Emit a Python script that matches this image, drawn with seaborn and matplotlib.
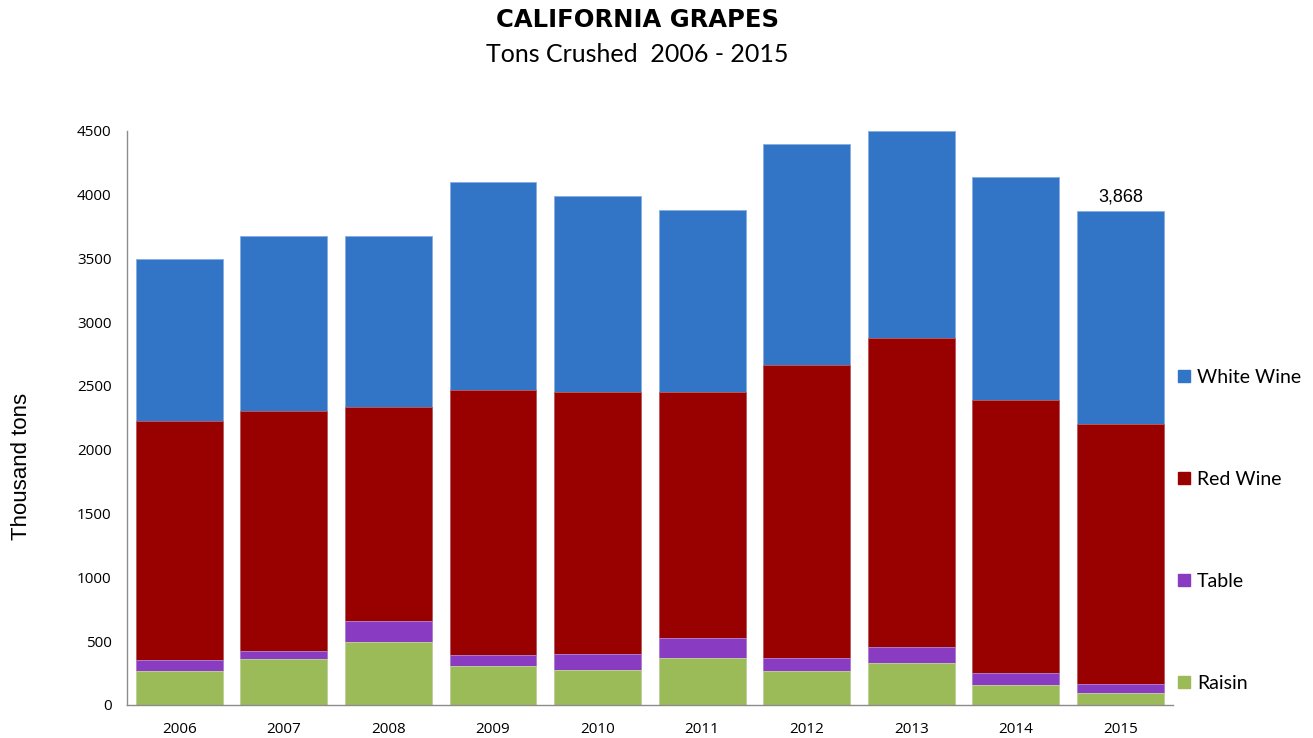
import numpy as np
import pandas as pd
import matplotlib
matplotlib.use("Agg")
import matplotlib.pyplot as plt
import seaborn as sns
from matplotlib.lines import Line2D

years = ["2006", "2007", "2008", "2009", "2010", "2011", "2012", "2013", "2014", "2015"]
raisin = [267, 361, 494, 306, 274, 371, 269, 329, 157, 92]
table = [84, 65, 164, 89, 125, 157, 97, 125, 94, 73]
red_wine = [1875, 1876, 1676, 2074, 2053, 1921, 2298, 2418, 2139, 2040]
white_wine = [1272, 1374, 1342, 1630, 1538, 1431, 1728, 1628, 1751, 1663]
series_names = ["Raisin", "Table", "Red Wine", "White Wine"]
colors = {"Raisin": "#9BBB59", "Table": "#893BC2", "Red Wine": "#990000", "White Wine": "#3275C6"}
edges = {"Raisin": "#C4D99B", "Table": "#B48AD8", "Red Wine": "#C06060", "White Wine": "#86AEE0"}

sns.set_style("white")
plt.rcParams["text.color"] = "black"
plt.rcParams["xtick.color"] = "black"
plt.rcParams["ytick.color"] = "black"

df = pd.DataFrame({"year": years, "Raisin": raisin, "Table": table,
                   "Red Wine": red_wine, "White Wine": white_wine})
cum = df[series_names].cumsum(axis=1)

fig = plt.figure(figsize=(13.13, 7.38), dpi=100)
ax = fig.add_axes([127/1313, 1-705/738, (1172.7-127)/1313, (705-130.7)/738])

# draw from the top layer down, each as cumulative bar
for name in reversed(series_names):
    sns.barplot(x=df["year"], y=cum[name], color=colors[name], ax=ax,
                width=0.83, saturation=1, edgecolor=edges[name], linewidth=0.6,
                errorbar=None)

ax.set_ylim(0, 4500)
ax.set_xlim(-0.5, 9.5)
ax.set_yticks(np.arange(0, 4501, 500))
ax.set_yticklabels([str(v) for v in range(0, 4501, 500)], fontsize=11,
                   family="Open Sans")
ax.set_xticks(range(10))
ax.set_xticklabels(years, fontsize=11, family="Open Sans")
ax.set_xticks(np.arange(-0.5, 10, 1), minor=True)
ax.tick_params(axis="x", which="major", length=0, pad=12, colors="black")
ax.tick_params(axis="x", which="minor", length=6, color="#8C8C8C", width=1)
ax.tick_params(axis="y", which="major", length=5, color="#8C8C8C", width=1, pad=6,
               labelcolor="black")
ax.set_xlabel("")
ax.set_ylabel("")
for s in ["top", "right"]:
    ax.spines[s].set_visible(False)
for s in ["left", "bottom"]:
    ax.spines[s].set_color("#8C8C8C")
    ax.spines[s].set_linewidth(1)

fig.text(22/1313, 1-466/738, "Thousand tons", rotation=90, ha="center", va="center",
         fontsize=16, family="Liberation Sans")

total_2015 = cum["White Wine"].iloc[-1]
ax.annotate(f"{total_2015:,}", xy=(9, total_2015), xytext=(0, 4),
            textcoords="offset points", ha="center", va="bottom",
            fontsize=13, family="Liberation Sans")

handles = [Line2D([0], [0], marker="s", linestyle="none", markersize=8,
                  markerfacecolor=colors[n], markeredgecolor=colors[n])
           for n in reversed(series_names)]
fig.legend(handles, list(reversed(series_names)), loc="upper left",
           bbox_to_anchor=(1168/1313, 1-361/738), frameon=False,
           prop={"family": "Lato", "size": 14}, labelspacing=4.37,
           handlelength=0.8, handletextpad=0.3, borderaxespad=0)

fig.text(637/1313, 1-20/738, "CALIFORNIA GRAPES", ha="center", va="center",
         fontsize=17.5, fontweight="bold", family="DejaVu Sans")
fig.text(637/1313, 1-55/738, "Tons Crushed  2006 - 2015", ha="center", va="center",
         fontsize=18, family="Lato")

fig.savefig("out.png", dpi=100)
